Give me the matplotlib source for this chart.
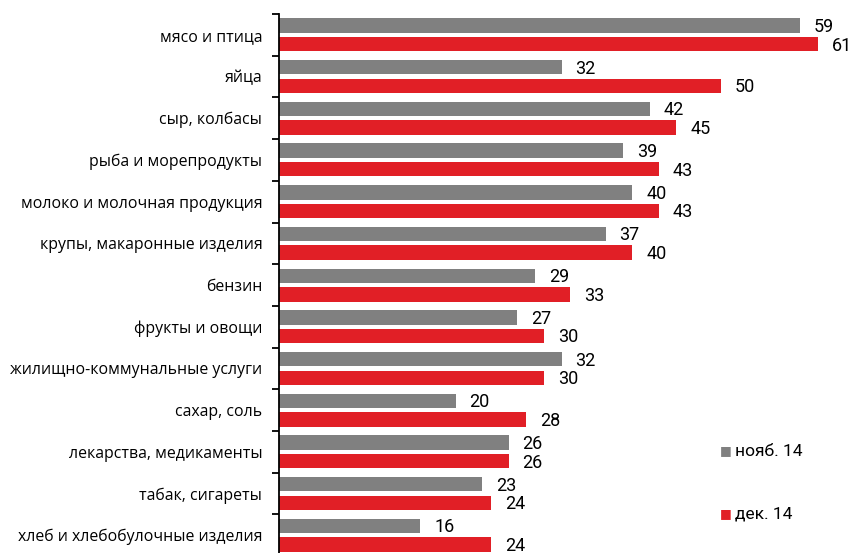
import matplotlib
matplotlib.use("Agg")
import matplotlib.pyplot as plt
from matplotlib import font_manager
import numpy as np

categories = ["мясо и птица", "яйца", "сыр, колбасы", "рыба и морепродукты",
              "молоко и молочная продукция", "крупы, макаронные изделия", "бензин",
              "фрукты и овощи", "жилищно-коммунальные услуги", "сахар, соль",
              "лекарства, медикаменты", "табак, сигареты", "хлеб и хлебобулочные изделия"]
nov = [59, 32, 42, 39, 40, 37, 29, 27, 32, 20, 26, 23, 16]
dec = [61, 50, 45, 43, 43, 40, 33, 30, 30, 28, 26, 24, 24]
series_names = ["нояб. 14", "дек. 14"]

names = {f.name for f in font_manager.fontManager.ttflist}
narrow = "Roboto" if "Roboto" in names else "DejaVu Sans"
label_font = "Open Sans" if "Open Sans" in names else "DejaVu Sans"

GRAY = "#808080"
RED = "#E11F26"

fig = plt.figure(figsize=(8.52, 5.53), dpi=100)
W, H = 852, 553
left_px, top_px, pitch = 279, 14, 41.7
n = len(categories)
bottom_px = top_px + pitch * n
ax = fig.add_axes([left_px / W, 1 - bottom_px / H, (W - left_px) / W, (bottom_px - top_px) / H])

px_per_unit = 8.83
ax.set_xlim(0, (W - left_px) / px_per_unit)
ax.set_ylim(n - 0.5, -0.5)

y = np.arange(n)
off = 0.223
h = 0.345
ax.barh(y - off, nov, height=h, color=GRAY, label=series_names[0])
ax.barh(y + off, dec, height=h, color=RED, label=series_names[1])

for yi, v in zip(y - off, nov):
    ax.annotate(str(v), (v, yi), xytext=(10, -1), textcoords="offset points",
                ha="left", va="center", fontsize=13, family=narrow)
for yi, v in zip(y + off, dec):
    ax.annotate(str(v), (v, yi), xytext=(10, -1), textcoords="offset points",
                ha="left", va="center", fontsize=13, family=narrow)

for s in ["top", "right", "bottom"]:
    ax.spines[s].set_visible(False)
ax.spines["left"].set_linewidth(1.3)
ax.spines["left"].set_color("black")
ax.set_xticks([])
ax.set_yticks(np.arange(n + 1) - 0.5)
ax.set_yticklabels([])
ax.set_yticks(y, minor=True)
ax.set_yticklabels(categories, minor=True, fontsize=11.4, family=label_font)
ax.tick_params(axis="y", which="major", length=5, width=1.3, direction="out")
ax.tick_params(axis="y", which="minor", length=0, pad=12)

# legend
fig.text(720 / W, 1 - 451 / H, "■", color=GRAY, fontsize=9, ha="left", va="center")
fig.text(735 / W, 1 - 451 / H, series_names[0], fontsize=12.5, ha="left", va="center", family=narrow)
fig.text(720 / W, 1 - 514 / H, "■", color=RED, fontsize=9, ha="left", va="center")
fig.text(735 / W, 1 - 514 / H, series_names[1], fontsize=12.5, ha="left", va="center", family=narrow)

fig.savefig("out.png", dpi=100)
